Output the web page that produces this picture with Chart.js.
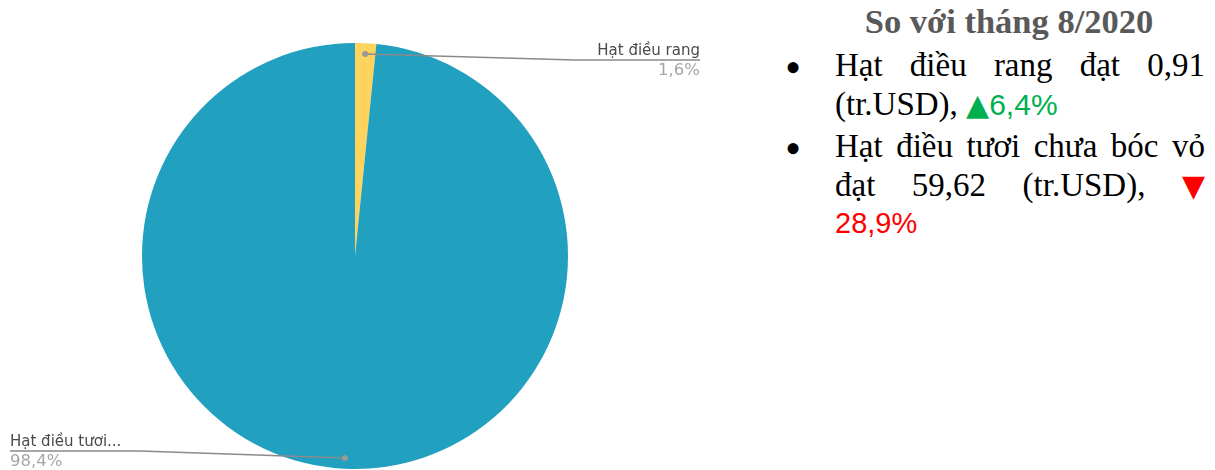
<!DOCTYPE html>
<html>
<head>
<meta charset="utf-8">
<script src="https://cdn.jsdelivr.net/npm/chart.js@4"></script>
<style>
    body { margin: 0; background: #fff; width: 1215px; height: 470px; overflow: hidden; position: relative; }
    #chart-box { position: absolute; left: 0; top: 0; width: 710px; height: 470px; }
    .note { position: absolute; font-family: "Liberation Serif", serif; font-size: 33px; line-height: 38px; color: #000; white-space: nowrap; }
    .title { left: 804px; top: 2px; width: 410px; text-align: center; font-weight: bold; color: #595959; font-size: 34.5px; }
    .line { left: 835px; width: 370px; }
    .just { text-align: justify; text-align-last: justify; }
    .bullet { left: 785px; font-size: 46px; }
    .tri { font-family: "DejaVu Sans", sans-serif; font-size: 30px; }
    .up { color: #00b050; font-family: "Liberation Sans", sans-serif; font-size: 30px; }
    .down { color: #ff0000; font-family: "Liberation Sans", sans-serif; font-size: 29px; }
</style>
</head>
<body>
<div id="chart-box"><canvas id="pie-chart"></canvas></div>

<div class="note title">So với tháng 8/2020</div>
<div class="note bullet" style="top:49px">•</div>
<div class="note line just" style="top:46px">Hạt điều rang đạt 0,91</div>
<div class="note line" style="top:85px">(tr.USD), <span class="up"><span class="tri">▲</span>6,4%</span></div>
<div class="note bullet" style="top:130px">•</div>
<div class="note line just" style="top:127px">Hạt điều tươi chưa bóc vỏ</div>
<div class="note line just" style="top:166px">đạt 59,62 (tr.USD), <span class="down"><span class="tri">▼</span></span></div>
<div class="note line" style="top:203px"><span class="down">28,9%</span></div>

<script>
const categories = ["Hạt điều rang", "Hạt điều tươi chưa bóc vỏ"];
const shortLabels = ["Hạt điều rang", "Hạt điều tươi..."];
const shares = [1.6, 98.4]; // % of export value
const shareLabels = ["1,6%", "98,4%"];
const sliceColors = ["#ffd45c", "#21a0bf"];

// leader lines with label + percent, like the original pie
const leaderLabels = {
    id: "leaderLabels",
    afterDraw(chart) {
        const ctx = chart.ctx;
        const meta = chart.getDatasetMeta(0);
        meta.data.forEach((arc, i) => {
            const mid = (arc.startAngle + arc.endAngle) / 2;
            const r = arc.outerRadius * 0.95;
            const dotX = arc.x + Math.cos(mid) * r;
            const dotY = arc.y + Math.sin(mid) * r;
            const right = Math.cos(mid) >= 0;
            const lineY = dotY + (right ? 6 : -7);
            const elbowX = right ? arc.x + 220 : arc.x - 215;
            const endX = right ? arc.x + 345 : arc.x - 345;

            ctx.save();
            ctx.strokeStyle = "#8a8a8a";
            ctx.lineWidth = 1.5;
            ctx.beginPath();
            ctx.moveTo(dotX, dotY);
            ctx.lineTo(elbowX, lineY);
            ctx.lineTo(endX, lineY);
            ctx.stroke();

            ctx.fillStyle = "#999";
            ctx.beginPath();
            ctx.arc(dotX, dotY, 3, 0, Math.PI * 2);
            ctx.fill();

            ctx.textAlign = right ? "right" : "left";
            ctx.textBaseline = "alphabetic";
            ctx.font = "15px 'DejaVu Sans', sans-serif";
            ctx.fillStyle = "#4a4a4a";
            ctx.fillText(shortLabels[i], endX, lineY - 5);
            ctx.font = "16.5px 'DejaVu Sans', sans-serif";
            ctx.fillStyle = "#a6a6a6";
            ctx.fillText(shareLabels[i], endX, lineY + 15);
            ctx.restore();
        });
    },
};

const ctx = document.getElementById("pie-chart").getContext("2d");
new Chart(ctx, {
    type: "pie",
    data: {
        labels: categories,
        datasets: [
            {
                data: shares,
                backgroundColor: sliceColors,
                borderWidth: 0,
            },
        ],
    },
    options: {
        responsive: true,
        maintainAspectRatio: false,
        animation: false,
        layout: {
            padding: { top: 43, bottom: 1, left: 0, right: 0 },
        },
        plugins: {
            legend: { display: false },
            tooltip: { enabled: false },
        },
    },
    plugins: [leaderLabels],
});
</script>
</body>
</html>
